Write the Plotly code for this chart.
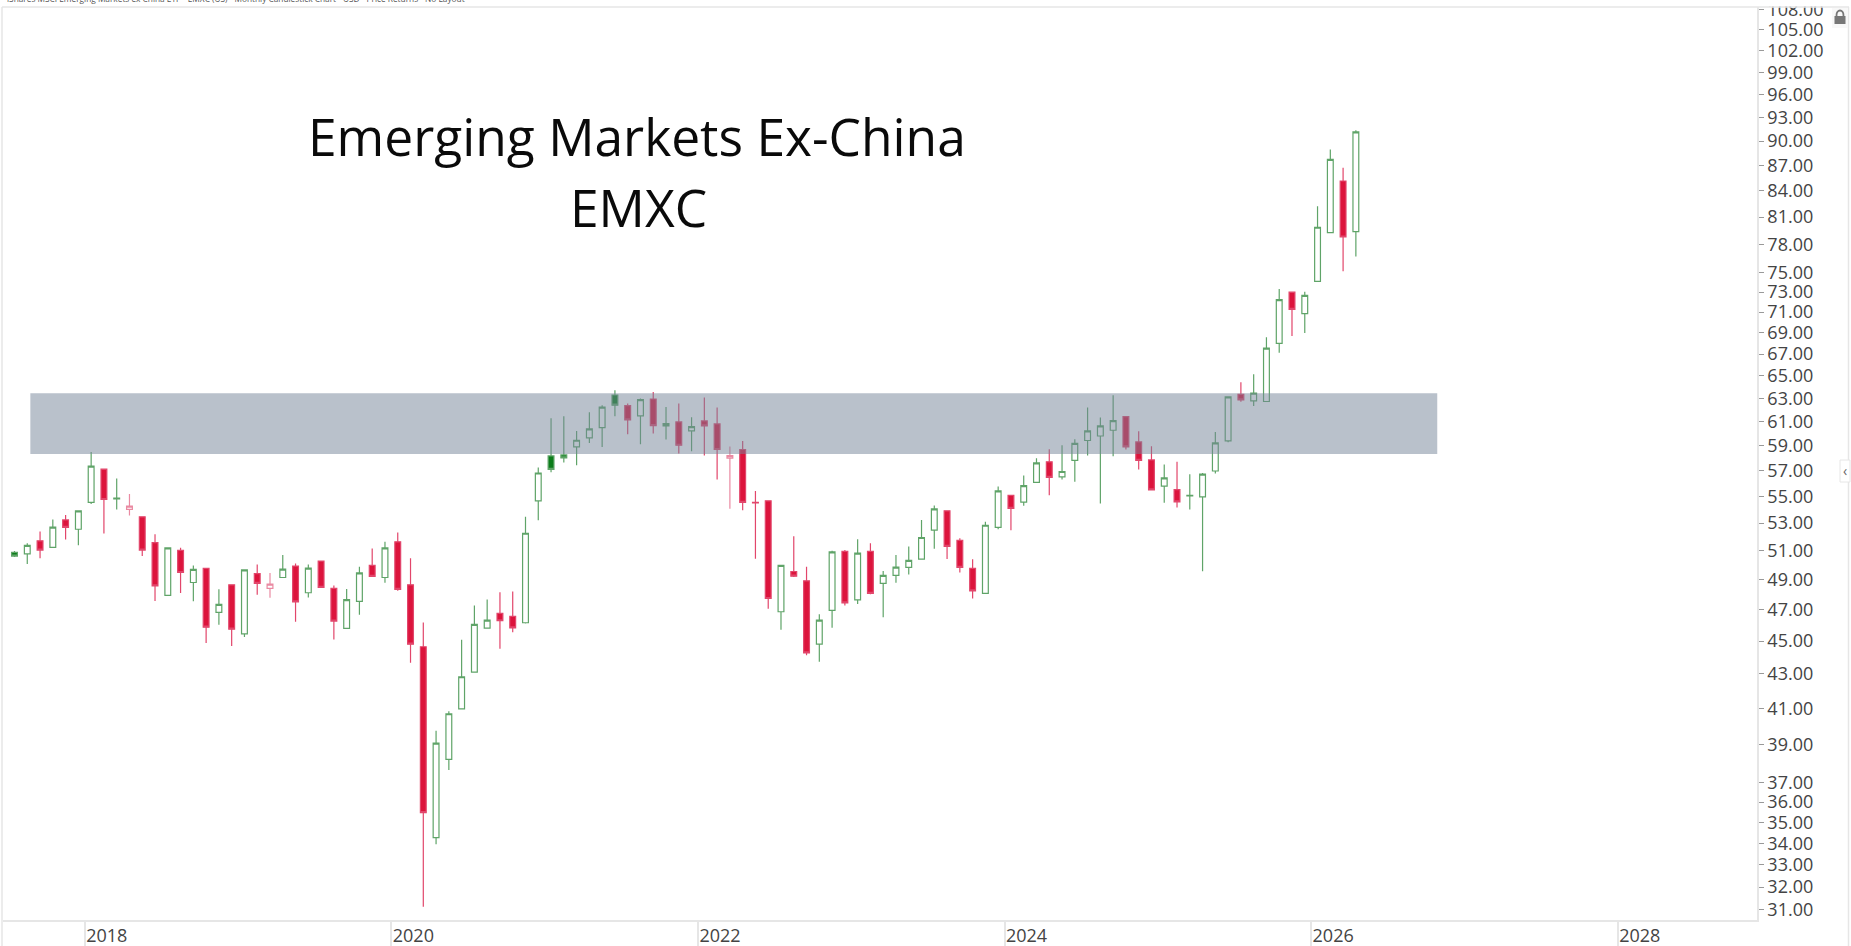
import pandas as pd
import plotly.graph_objects as go

# ---- data ----
months = [str(p) for p in pd.period_range("2017-07", "2029-12", freq="M")]
first_month_count = 106

opens = [50.89,50.79,51.71,51.24,53.23,52.55,54.54,57.11,54.81,54.01,
         53.46,51.59,47.95,51.03,48.81,49.77,46.83,48.65,45.45,49.42,
         48.41,49.15,49.93,48.12,50.28,48.41,45.80,47.55,49.98,49.15,
         51.64,48.65,44.65,34.27,38.20,40.97,43.11,45.82,46.76,46.57,
         46.16,54.66,58.17,58.25,58.90,59.64,60.50,63.30,62.38,61.49,
         62.95,60.64,60.98,60.22,61.06,60.81,57.99,58.69,54.54,54.66,
         46.87,49.56,48.92,44.81,46.96,50.96,47.65,50.96,48.75,49.29,
         49.84,50.42,52.48,53.91,51.74,49.77,48.08,52.68,55.07,54.56,
         56.07,57.70,56.51,57.81,59.43,59.80,60.28,61.43,59.31,57.85,
         55.78,55.52,55.04,54.96,56.97,59.39,63.36,62.78,62.73,67.99,
         73.00,70.86,74.10,79.27,85.16,79.38]
highs = [50.98,51.53,52.39,53.26,53.60,53.93,58.49,57.13,56.38,55.19,
         53.46,52.19,51.21,51.21,49.98,49.77,48.35,48.65,49.72,50.05,
         49.46,50.70,50.12,50.05,50.28,48.61,48.37,49.88,51.17,51.64,
         52.31,50.47,46.18,39.74,40.83,45.08,47.28,47.68,48.15,48.21,
         53.46,57.24,61.29,61.46,60.22,61.80,62.41,63.71,62.55,63.00,
         63.56,62.25,62.55,61.38,63.08,62.21,58.93,59.39,55.42,54.69,
         49.98,52.05,49.88,46.70,51.00,51.05,51.83,51.53,49.60,50.70,
         51.31,53.23,54.31,53.91,51.90,50.40,53.09,55.75,55.09,56.62,
         57.99,58.71,59.04,59.53,62.21,61.35,63.28,61.43,60.20,58.96,
         57.49,57.70,56.72,56.82,60.14,63.17,64.42,65.14,68.57,73.31,
         73.00,73.05,82.22,88.95,86.75,91.36]
lows = [50.56,50.07,50.47,51.24,51.81,51.40,54.43,52.24,54.01,53.56,
        50.63,47.58,47.95,48.10,47.56,44.89,46.03,44.69,45.25,47.99,
        47.78,49.15,46.22,47.81,48.48,45.10,45.80,46.67,49.22,48.79,
        48.25,43.67,31.14,33.96,37.64,40.97,43.11,45.80,44.52,45.56,
        46.12,53.21,56.87,57.65,57.43,59.23,58.90,61.46,59.95,59.12,
        60.00,59.51,58.36,58.55,58.20,56.30,54.06,53.96,50.44,47.07,
        45.71,49.19,44.12,43.73,45.84,47.28,47.37,48.02,46.52,48.79,
        49.36,50.42,51.14,50.42,49.49,47.74,48.08,52.55,52.48,54.28,
        56.04,55.09,56.30,56.12,58.20,54.46,58.15,58.69,57.09,55.47,
        54.51,54.16,54.01,49.58,56.77,59.28,62.70,62.35,62.73,67.12,
        68.69,68.98,74.10,79.23,75.14,76.71]
closes = [50.63,51.39,51.05,52.70,52.68,53.91,57.35,54.76,54.86,54.26,
          51.05,48.58,51.21,49.49,49.70,45.88,47.35,45.75,49.67,48.75,
          48.70,49.72,47.52,49.79,48.48,46.27,47.67,49.46,49.22,51.21,
          48.35,44.81,35.48,39.07,40.69,42.83,46.06,46.33,46.29,45.83,
          52.26,56.81,57.09,58.01,59.45,60.39,62.25,62.41,61.15,62.90,
          60.67,60.84,59.04,60.59,60.64,58.69,58.20,54.54,54.51,47.74,
          49.98,49.24,44.27,46.33,50.93,47.45,50.84,48.08,49.29,49.86,
          50.33,51.95,54.06,51.31,49.84,48.25,52.84,55.42,54.09,55.83,
          57.62,56.46,56.93,59.20,60.22,60.64,61.09,58.90,57.81,55.49,
          56.43,54.58,55.07,56.72,59.23,63.13,62.87,63.47,67.55,72.24,
          71.28,72.67,79.87,87.75,78.80,91.15]
candle_colors = ("ggrgrggrgr" "rrgrgrgrgr" "rgrgrrggrg" "rrrgggggrr" "ggggggggrg"
                 "rgrgrrrrrr" "grrggrgrgg" "gggrrrggrg" "grgggggrrr" "grggggrggg" "rgggrg")

band_low, band_high = 58.33, 63.45
band_start, band_end = 1.24, 111.37

y_ticks = [31,32,33,34,35,36,37,39,41,43,45,47,49,51,53,55,57,59,61,63,65,67,69,71,73,75,
           78,81,84,87,90,93,96,99,102,105,108]
year_labels = ["2018", "2020", "2022", "2024", "2026", "2028"]
year_tick_positions = [5.5, 29.5, 53.5, 77.5, 101.5, 125.5]

title_lines = ["Emerging Markets Ex-China", "EMXC"]
caption = "iShares MSCI Emerging Markets ex China ETF • EMXC (US) - Monthly Candlestick Chart - USD - Price Returns - No Layout"

# ---- layout helpers ----
W, H = 1851, 946
L, R, T, B = 3, 1757, 7, 920
def px(x): return (x - L) / (R - L)
def py(y): return (B - y) / (B - T)
FONT = "Open Sans"
GREEN_LINE, GREEN_FILL = "#5fa468", "#0b7d1a"
RED_LINE, RED_FILL = "#e2466b", "#dc143c"
BORDER = "#e6e6e6"

def subset(letter, values):
    return [v for v, c in zip(values, candle_colors) if c == letter]

fig = go.Figure()
for letter, line, dec_fill in (("g", GREEN_LINE, GREEN_FILL), ("r", RED_LINE, RED_FILL)):
    inc_line = line if letter == "g" else "#ea8aa2"
    fig.add_trace(go.Candlestick(
        x=subset(letter, months[:first_month_count]),
        open=subset(letter, opens), high=subset(letter, highs),
        low=subset(letter, lows), close=subset(letter, closes),
        whiskerwidth=0,
        increasing=dict(line=dict(color=inc_line, width=1.2), fillcolor="#ffffff"),
        decreasing=dict(line=dict(color=line, width=1.2), fillcolor=dec_fill),
        showlegend=False, hoverinfo="skip",
    ))

shapes = [
    dict(type="rect", xref="x", yref="y", x0=band_start, x1=band_end, y0=band_low, y1=band_high,
         fillcolor="rgba(115,131,151,0.5)", line_width=0, layer="above"),
    # mask hiding the top of the clipped first tick label
    dict(type="rect", xref="paper", yref="paper", x0=px(1758), x1=px(1851), y0=py(6.5), y1=py(-2),
         fillcolor="#ffffff", line_width=0, layer="above"),
    # frame
    dict(type="line", xref="paper", yref="paper", x0=px(2), x1=px(1849), y0=py(7), y1=py(7),
         line=dict(color=BORDER, width=1.5), layer="above"),
    dict(type="line", xref="paper", yref="paper", x0=px(2), x1=px(2), y0=py(7), y1=py(946),
         line=dict(color=BORDER, width=1.5), layer="above"),
    dict(type="line", xref="paper", yref="paper", x0=px(1848.5), x1=px(1848.5), y0=py(7), y1=py(946),
         line=dict(color=BORDER, width=1.5), layer="above"),
    # collapse tab
    dict(type="rect", xref="paper", yref="paper", x0=px(1840), x1=px(1850), y0=py(460), y1=py(482),
         fillcolor="#ffffff", line=dict(color=BORDER, width=1), layer="above"),
    # lock icon
    dict(type="rect", xref="paper", yref="paper", x0=px(1832), x1=px(1848), y0=py(8), y1=py(28),
         fillcolor="#f8f8f8", line_width=0, layer="above"),
    dict(type="rect", xref="paper", yref="paper", x0=px(1834.5), x1=px(1845.5), y0=py(16), y1=py(24),
         fillcolor="#777777", line_width=0, layer="above"),
    dict(type="circle", xref="paper", yref="paper", x0=px(1836.5), x1=px(1843.5), y0=py(10.5), y1=py(20),
         line=dict(color="#777777", width=1.8), layer="above"),
]

annotations = [
    dict(text=title_lines[0], xref="paper", yref="paper", x=px(637), y=py(136), showarrow=False,
         xanchor="center", yanchor="middle", font=dict(family=FONT, size=51.5, color="#0a0a0a")),
    dict(text=title_lines[1], xref="paper", yref="paper", x=px(638), y=py(207), showarrow=False,
         xanchor="center", yanchor="middle", font=dict(family=FONT, size=51.5, color="#0a0a0a")),
    dict(text=caption, xref="paper", yref="paper", x=px(5), y=py(6), showarrow=False,
         xanchor="left", yanchor="bottom", font=dict(family=FONT, size=8.3, color="#555555")),
    dict(text="‹", xref="paper", yref="paper", x=px(1845), y=py(470), showarrow=False,
         xanchor="center", yanchor="middle", font=dict(family=FONT, size=14, color="#666666")),
]

fig.update_layout(
    width=W, height=H, paper_bgcolor="#ffffff", plot_bgcolor="#ffffff",
    margin=dict(l=L, r=W - R, t=T, b=H - B, pad=0),
    boxgap=0.35, boxmode="overlay", showlegend=False,
    font=dict(family=FONT, size=18, color="#444444"),
    shapes=shapes, annotations=annotations,
    xaxis=dict(
        type="category", categoryorder="array", categoryarray=months,
        range=[-0.9, 136.4], rangeslider=dict(visible=False),
        tickmode="array", tickvals=year_tick_positions, ticktext=year_labels,
        ticks="outside", ticklen=26, tickcolor=BORDER, tickwidth=1.5,
        ticklabelshift=22, ticklabelstandoff=-27, automargin=False, ticklabeloverflow="allow",
        showgrid=False, zeroline=False, showline=True, linecolor=BORDER, linewidth=1.5,
        tickfont=dict(family=FONT, size=18, color="#444444"), tickangle=0,
    ),
    yaxis=dict(
        type="log", side="right", range=[1.4853, 2.0350],
        tickmode="array", tickvals=y_ticks, ticktext=[f"{v:.2f}" for v in y_ticks],
        ticks="outside", ticklen=5, tickcolor="#999999", tickwidth=1, ticklabeloverflow="allow",
        showgrid=False, zeroline=False, showline=True, linecolor=BORDER, linewidth=1.5,
        tickfont=dict(family=FONT, size=18, color="#444444"), automargin=False,
    ),
)

fig.write_html("out.html", config=dict(displayModeBar=False),
               post_script="document.body.style.margin='0';document.body.style.overflow='hidden';")
